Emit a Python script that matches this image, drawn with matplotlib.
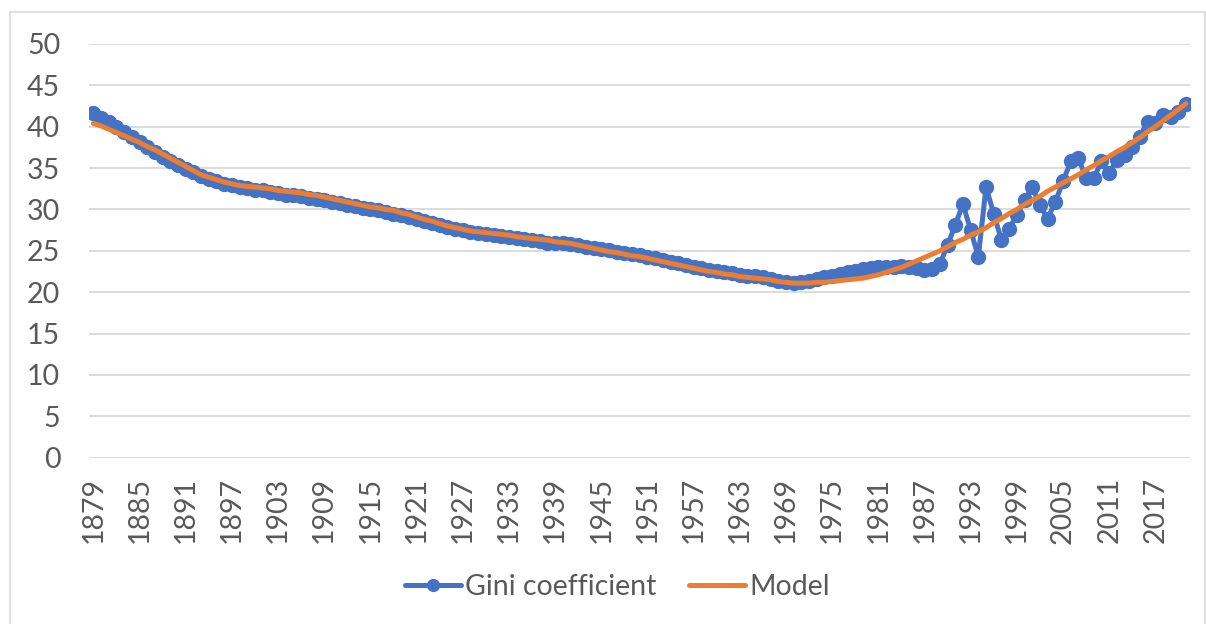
#! /usr/bin/env python3

'''
Gini coefficient by year with a fitted model curve (Excel-style line chart).
'''

import matplotlib
matplotlib.use('Agg')
import matplotlib.pyplot as plt
from matplotlib.patches import Rectangle

years = list(range(1879, 2022))

gini = [
    41.6, 41.1, 40.6, 40.0, 39.4, 38.8, 38.1, 37.5, 36.9, 36.4,  # 1879-1888
    35.9, 35.4, 34.9, 34.5, 34.1, 33.7, 33.4, 33.1, 32.9, 32.7,  # 1889-1898
    32.6, 32.4, 32.3, 32.1, 32.0, 31.8, 31.7, 31.6, 31.4, 31.3,  # 1899-1908
    31.1, 30.9, 30.8, 30.6, 30.4, 30.2, 30.0, 29.9, 29.7, 29.5,  # 1909-1918
    29.3, 29.1, 28.9, 28.6, 28.4, 28.1, 27.9, 27.7, 27.5, 27.3,  # 1919-1928
    27.2, 27.0, 26.9, 26.8, 26.7, 26.5, 26.4, 26.3, 26.2, 26.0,  # 1929-1938
    25.9, 25.9, 25.8, 25.7, 25.5, 25.3, 25.2, 25.1, 24.9, 24.8,  # 1939-1948
    24.6, 24.5, 24.3, 24.1, 23.9, 23.7, 23.5, 23.3, 23.1, 22.9,  # 1949-1958
    22.7, 22.6, 22.4, 22.3, 22.1, 22.0, 21.9, 21.8, 21.6, 21.4,  # 1959-1968
    21.2, 21.1, 21.2, 21.4, 21.6, 21.8, 22.0, 22.2, 22.4, 22.6,  # 1969-1978
    22.8, 22.9, 23.0, 23.1, 23.1, 23.2, 23.1, 22.9, 22.7, 22.8,  # 1979-1988
    23.4, 25.7, 28.1, 30.7, 27.5, 24.3, 32.7, 29.5, 26.3, 27.7,  # 1989-1998
    29.3, 31.1, 32.7, 30.5, 28.9, 30.9, 33.4, 35.8, 36.2, 33.8,  # 1999-2008
    33.8, 35.8, 34.4, 36.0, 36.6, 37.6, 38.8, 40.6, 40.4, 41.4,  # 2009-2018
    41.2, 41.8, 42.8,                                            # 2019-2021
]

model = [
    40.4, 40.1, 39.7, 39.3, 38.9, 38.5, 38.1, 37.6, 37.2, 36.7,  # 1879-1888
    36.2, 35.7, 35.2, 34.7, 34.2, 33.9, 33.6, 33.3, 33.1, 32.9,  # 1889-1898
    32.8, 32.7, 32.6, 32.5, 32.3, 32.2, 32.1, 32.0, 31.8, 31.7,  # 1899-1908
    31.5, 31.3, 31.1, 30.9, 30.7, 30.5, 30.3, 30.2, 30.0, 29.9,  # 1909-1918
    29.6, 29.4, 29.1, 28.8, 28.6, 28.3, 28.0, 27.8, 27.6, 27.4,  # 1919-1928
    27.3, 27.2, 27.1, 27.0, 26.9, 26.7, 26.6, 26.5, 26.4, 26.3,  # 1929-1938
    26.1, 26.0, 25.9, 25.7, 25.5, 25.3, 25.1, 24.9, 24.8, 24.6,  # 1939-1948
    24.4, 24.3, 24.1, 23.9, 23.7, 23.5, 23.3, 23.1, 22.9, 22.7,  # 1949-1958
    22.5, 22.4, 22.2, 22.1, 21.9, 21.8, 21.7, 21.6, 21.5, 21.3,  # 1959-1968
    21.2, 21.1, 21.1, 21.1, 21.2, 21.2, 21.3, 21.4, 21.5, 21.6,  # 1969-1978
    21.7, 21.9, 22.1, 22.4, 22.7, 23.0, 23.4, 23.8, 24.2, 24.6,  # 1979-1988
    25.0, 25.5, 26.0, 26.4, 26.9, 27.3, 27.8, 28.4, 28.9, 29.5,  # 1989-1998
    30.0, 30.6, 31.1, 31.6, 32.2, 32.7, 33.2, 33.7, 34.2, 34.8,  # 1999-2008
    35.3, 35.9, 36.4, 37.0, 37.5, 38.1, 38.7, 39.4, 40.0, 40.7,  # 2009-2018
    41.4, 42.1, 42.8,                                            # 2019-2021
]

series_labels = ['Gini coefficient', 'Model']
y_ticks = [0, 5, 10, 15, 20, 25, 30, 35, 40, 45, 50]
x_tick_step = 6

BLUE = '#4472C4'
ORANGE = '#ED7D31'
TEXT = '#595959'
GRID = '#D9D9D9'
FONT_SIZE = 20.5


def main():
    plt.rcParams['font.family'] = ['Lato', 'DejaVu Sans']
    fig = plt.figure(figsize=(12.06, 6.24), dpi=100)
    ax = fig.add_axes([0.0742, 0.2665, 0.9125, 0.663])

    # chart border
    fig.patches.append(Rectangle(
        (10 / 1206, -0.01), 1195 / 1206, 1 - 12 / 624 + 0.01,
        transform=fig.transFigure, fill=False, edgecolor=GRID, lw=1.2
    ))

    pos = list(range(len(years)))
    ax.plot(pos, gini, color=BLUE, lw=3.6, marker='o', markersize=10,
            label=series_labels[0], zorder=3, solid_capstyle='round')
    ax.plot(pos, model, color=ORANGE, lw=3.6, label=series_labels[1],
            zorder=4, solid_capstyle='round')

    ax.set_xlim(-0.5, len(years) - 0.5)
    ax.set_ylim(0, 50)
    ax.set_yticks(y_ticks)
    ax.set_xticks(pos[::x_tick_step])
    ax.set_xticklabels([str(y) for y in years[::x_tick_step]], rotation=90)

    ax.grid(axis='y', color=GRID, lw=1.3)
    ax.set_axisbelow(True)
    for spine in ax.spines.values():
        spine.set_visible(False)
    ax.tick_params(axis='both', length=0, labelsize=FONT_SIZE,
                   labelcolor=TEXT)
    ax.tick_params(axis='y', pad=21)
    ax.tick_params(axis='x', pad=14)

    fig.legend(loc='center', bbox_to_anchor=(0.512, 0.059), ncol=2,
               frameon=False, fontsize=FONT_SIZE, labelcolor=TEXT,
               handlelength=1.95, handletextpad=0.15, columnspacing=1.15,
               markerscale=0.85)

    fig.savefig('out.png', dpi=100)


if __name__ == '__main__':
    main()
